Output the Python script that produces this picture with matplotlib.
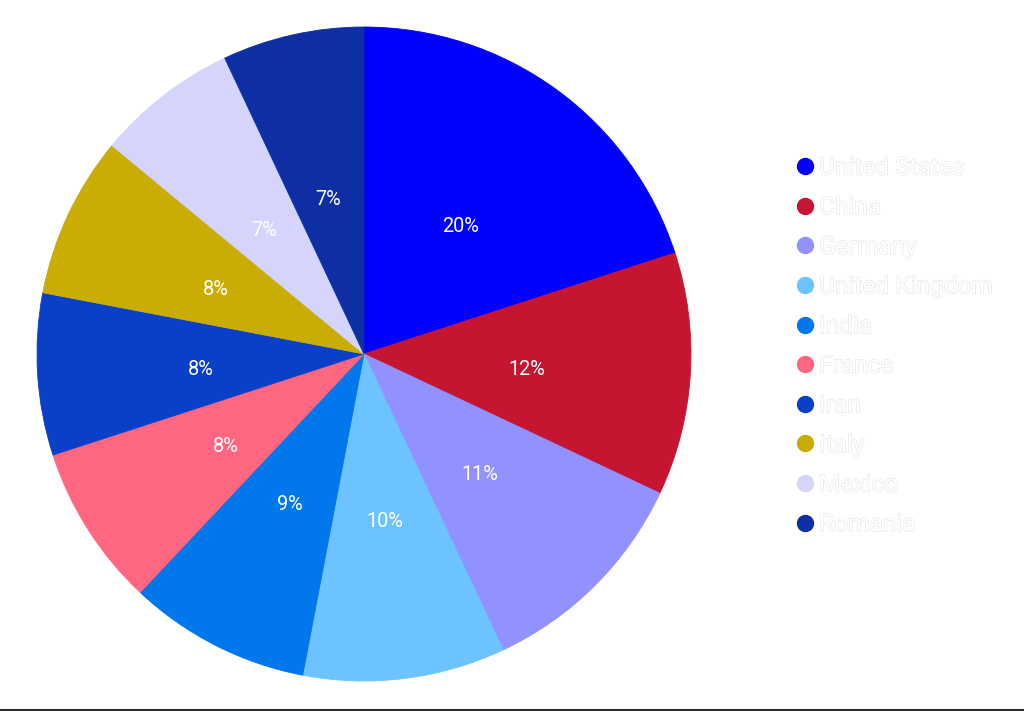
import matplotlib.pyplot as plt
import matplotlib.patheffects as pe
from matplotlib.lines import Line2D

countries = ['United States', 'China', 'Germany', 'United Kingdom', 'India',
             'France', 'Iran', 'Italy', 'Mexico', 'Romania']
shares = [20, 12, 11, 10, 9, 8, 8, 8, 7, 7]
colors = ['#0000ff', '#c51531', '#9191ff', '#6cc3ff', '#0077ea',
          '#ff6680', '#0a3fc8', '#c9ad03', '#d4d4fd', '#0d2fa3']

plt.rcParams['font.family'] = ['Roboto', 'DejaVu Sans']

fig = plt.figure(figsize=(10.24, 7.11), dpi=100, facecolor='white')
ax = fig.add_axes([0.0361, 0.0422, 0.6387, 0.9198])

wedges, texts, autotexts = ax.pie(
    shares, colors=colors, startangle=90, counterclock=False,
    autopct='%d%%', pctdistance=0.5,
    textprops={'color': 'white', 'fontsize': 14.3},
)
# hide the thin seams between slices
for w, c in zip(wedges, colors):
    w.set_edgecolor(c)
    w.set_linewidth(0.6)
# nudge labels down a few pixels
for t in autotexts:
    x, y = t.get_position()
    t.set_position((x, y - 0.016))
ax.set_xlim(-1, 1)
ax.set_ylim(-1, 1)
ax.set_aspect('equal')

# legend with round markers, white text
handles = [Line2D([], [], marker='o', ls='', color=c, markersize=11.5) for c in colors]
leg = fig.legend(handles, countries, loc='center left',
                 bbox_to_anchor=(796.6 / 1024, 0.5127),
                 frameon=False, fontsize=17.6, handlelength=0.7,
                 handletextpad=0.22, labelspacing=0.68,
                 borderpad=0, borderaxespad=0)
for t in leg.get_texts():
    t.set_color('white')
    t.set_path_effects([pe.withStroke(linewidth=0.7, foreground='#e0e0e0')])

# thin dark line along the bottom edge
fig.add_artist(Line2D([0, 1], [1.5 / 711, 1.5 / 711], transform=fig.transFigure,
                      color='#2b2b2b', lw=1.5))

fig.savefig('out.png', dpi=100, facecolor='white')
